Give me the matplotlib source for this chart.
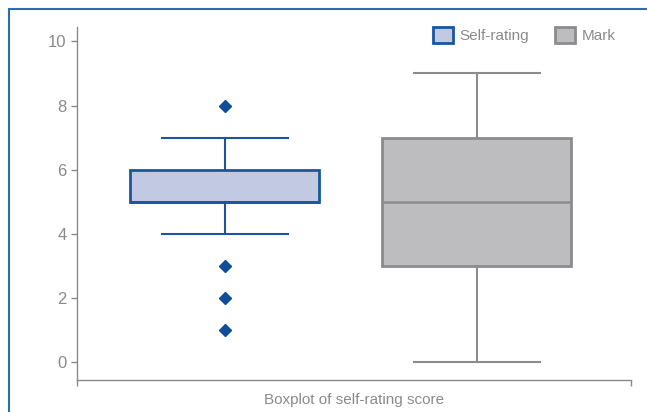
import matplotlib.pyplot as plt
from matplotlib.patches import Patch, Rectangle

# Box statistics
labels = ["Self-rating", "Mark"]
q1 = [5, 3]
med = [5, 5]
q3 = [6, 7]
whislo = [4, 0]
whishi = [7, 9]
fliers = [[8, 3, 2, 1], []]

positions = [0.267, 0.722]
face_colors = ["#c2c9e3", "#bdbdbf"]
edge_colors = ["#1a56a0", "#8c8c8e"]
text_grey = "#8a8a8a"

plt.rcParams['font.family'] = ['Liberation Sans Narrow', 'Liberation Sans', 'DejaVu Sans']

fig = plt.figure(figsize=(6.47, 4.12), dpi=100)
ax = fig.add_axes([0.119, 0.0777, 0.856, 0.857])

for i in range(len(labels)):
    stats = [dict(q1=q1[i], med=med[i], q3=q3[i], whislo=whislo[i],
                  whishi=whishi[i], fliers=fliers[i], label=labels[i])]
    ec = edge_colors[i]
    ax.bxp(stats, positions=[positions[i]], widths=0.341, capwidths=0.227,
           patch_artist=True, manage_ticks=False,
           boxprops=dict(facecolor=face_colors[i], edgecolor=ec, linewidth=2),
           whiskerprops=dict(color=ec, linewidth=1.5),
           capprops=dict(color=ec, linewidth=1.5),
           medianprops=dict(color=ec, linewidth=1.8),
           flierprops=dict(marker='D', markersize=6, markerfacecolor="#0d4f9a",
                           markeredgecolor="#0d4f9a"))

ax.set_xlim(0, 1)
ax.set_ylim(-0.55, 10.45)
ax.set_yticks([0, 2, 4, 6, 8, 10])
ax.set_xticks([0, 1])
ax.set_xticklabels([])
ax.tick_params(axis='y', colors="#8a8a8a", labelcolor=text_grey, labelsize=12,
               length=4, width=1, pad=3.5)
ax.tick_params(axis='x', colors="#8a8a8a", length=4, width=1)
for s in ["top", "right"]:
    ax.spines[s].set_visible(False)
for s in ["left", "bottom"]:
    ax.spines[s].set_color("#8a8a8a")
    ax.spines[s].set_linewidth(1)

ax.set_xlabel("Boxplot of self-rating score", color=text_grey, fontsize=11, labelpad=2)

handles = [Patch(facecolor=face_colors[i], edgecolor=edge_colors[i], linewidth=2,
                 label=labels[i]) for i in range(len(labels))]
leg = ax.legend(handles=handles, ncol=2, loc="upper left", bbox_to_anchor=(0.643, 1.0),
                frameon=False, fontsize=11, borderpad=0, borderaxespad=0,
                handlelength=1.3, handleheight=1.2, handletextpad=0.45,
                columnspacing=1.7)
for t in leg.get_texts():
    t.set_color(text_grey)

# blue frame around the figure (right and bottom edges fall outside the picture)
fig.add_artist(Rectangle((9 / 647, -0.2), 1.2, 0.2 + 1 - 9 / 412, transform=fig.transFigure,
                         fill=False, edgecolor="#2c6cb0", linewidth=1.5))

fig.savefig("out.png", dpi=100)
